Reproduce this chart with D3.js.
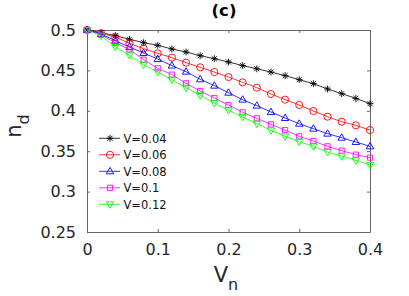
<!DOCTYPE html>
<html>
<head>
<meta charset="utf-8">
<script src="https://cdn.jsdelivr.net/npm/d3@7"></script>
<style>
  body { margin: 0; background: #fff; }
  text { font-family: "DejaVu Sans", sans-serif; }
</style>
</head>
<body>
<svg id="svg1" width="409" height="296"></svg>
<script>
var vn = [0, 0.02, 0.04, 0.06, 0.08, 0.10, 0.12, 0.14, 0.16, 0.18, 0.20,
          0.22, 0.24, 0.26, 0.28, 0.30, 0.32, 0.34, 0.36, 0.38, 0.40];
var v004 = [0.5, 0.4967, 0.493, 0.4885, 0.4843, 0.481, 0.4765, 0.4728, 0.4682, 0.4645, 0.4604,
            0.456, 0.452, 0.448, 0.4435, 0.4385, 0.4336, 0.427, 0.4212, 0.4154, 0.4088];
var v006 = [0.5, 0.496, 0.4913, 0.4835, 0.477, 0.4711, 0.4658, 0.4596, 0.4538, 0.448, 0.4418,
            0.4352, 0.4286, 0.4208, 0.4138, 0.4072, 0.3997, 0.3927, 0.3865, 0.382, 0.3762];
var v008 = [0.5, 0.495, 0.4868, 0.479, 0.4715, 0.464, 0.456, 0.4484, 0.439, 0.4311, 0.4224,
            0.4138, 0.4064, 0.3985, 0.3911, 0.384, 0.3779, 0.3717, 0.3667, 0.3614, 0.356];
var v010 = [0.5, 0.4942, 0.4843, 0.476, 0.4633, 0.4526, 0.4447, 0.434, 0.4245, 0.4158, 0.4072,
            0.3981, 0.3907, 0.3832, 0.3762, 0.3684, 0.3626, 0.356, 0.3507, 0.3457, 0.342];
var v012 = [0.5, 0.493, 0.479, 0.4686, 0.4571, 0.448, 0.4385, 0.4286, 0.4191, 0.4097, 0.4006,
            0.3923, 0.384, 0.3758, 0.3684, 0.3618, 0.356, 0.349, 0.3437, 0.3387, 0.333];
var names = ["V=0.04", "V=0.06", "V=0.08", "V=0.1", "V=0.12"];
var xTicks = [0, 0.1, 0.2, 0.3, 0.4];
var yTicks = [0.25, 0.3, 0.35, 0.4, 0.45, 0.5];

var series = [
  {name: names[0], vals: v004, color: "#000000", marker: "star"},
  {name: names[1], vals: v006, color: "#ff0000", marker: "circle"},
  {name: names[2], vals: v008, color: "#0000ff", marker: "up"},
  {name: names[3], vals: v010, color: "#ff00ff", marker: "square"},
  {name: names[4], vals: v012, color: "#00ff00", marker: "down"}
];

var svg = d3.select("#svg1"),
  margin = {top: 30, right: 39, bottom: 64, left: 87},
  width = +svg.attr("width") - margin.left - margin.right,
  height = +svg.attr("height") - margin.top - margin.bottom,
  g = svg.append("g").attr("transform", "translate(" + margin.left + "," + margin.top + ")");

var x = d3.scaleLinear().domain([0, 0.4]).range([0, width]);
var y = d3.scaleLinear().domain([0.25, 0.5]).range([height, 0]);

function markerPath(type) {
  var r = 3.4;
  if (type === "star") {
    var d = r * 0.72;
    return "M" + (-r) + ",0L" + r + ",0M0," + (-r) + "L0," + r +
      "M" + (-d) + "," + (-d) + "L" + d + "," + d + "M" + (-d) + "," + d + "L" + d + "," + (-d);
  }
  if (type === "circle") return d3.symbol(d3.symbolCircle, 40)();
  if (type === "square") return "M-2.6,-2.6H2.6V2.6H-2.6Z";
  if (type === "up") return "M0,-3.9L3.7,2.5L-3.7,2.5Z";
  if (type === "down") return "M0,3.9L3.7,-2.5L-3.7,-2.5Z";
}

// axes box with inward ticks
var fmt = function(d) { return d === 0 ? "0" : d3.format("")(+d.toFixed(2)); };
g.append("g")
  .attr("transform", "translate(0," + height + ")")
  .call(d3.axisBottom(x).tickValues(xTicks).tickSizeInner(-3).tickSizeOuter(0).tickPadding(12).tickFormat(fmt));
g.append("g")
  .call(d3.axisTop(x).tickValues(xTicks).tickSizeInner(-3).tickSizeOuter(0).tickFormat(""));
g.append("g")
  .call(d3.axisLeft(y).tickValues(yTicks).tickSizeInner(-3).tickSizeOuter(0).tickPadding(11).tickFormat(fmt));
g.append("g")
  .attr("transform", "translate(" + width + ",0)")
  .call(d3.axisRight(y).tickValues(yTicks).tickSizeInner(-3).tickSizeOuter(0).tickFormat(""));
g.selectAll(".domain").attr("stroke", "#666");
g.selectAll(".tick line").attr("stroke", "#666");
g.selectAll(".tick text").attr("font-size", 16).attr("fill", "#262626")
  .attr("font-family", "DejaVu Sans, sans-serif");

var line = d3.line()
  .x(function(d, i) { return x(vn[i]); })
  .y(function(d) { return y(d); });

series.forEach(function(s) {
  g.append("path")
    .datum(s.vals)
    .attr("fill", "none")
    .attr("stroke", s.color)
    .attr("stroke-width", 0.8)
    .attr("d", line);
  g.selectAll(null)
    .data(s.vals)
    .enter().append("path")
    .attr("transform", function(d, i) { return "translate(" + x(vn[i]) + "," + y(d) + ")"; })
    .attr("d", markerPath(s.marker))
    .attr("fill", "none")
    .attr("stroke", s.color)
    .attr("stroke-width", 0.9);
});

// legend
var leg = g.append("g").attr("transform", "translate(12,108.3)");
series.forEach(function(s, i) {
  var row = leg.append("g").attr("transform", "translate(0," + (i * 16.5) + ")");
  row.append("line").attr("x1", 0).attr("x2", 21).attr("y1", 0).attr("y2", 0)
    .attr("stroke", s.color).attr("stroke-width", 0.8);
  row.append("path").attr("transform", "translate(11,0)").attr("d", markerPath(s.marker))
    .attr("fill", "none").attr("stroke", s.color).attr("stroke-width", 0.9);
  row.append("text").attr("x", 24.5).attr("y", 4.2).attr("font-size", 11.5).attr("fill", "#111")
    .text(s.name);
});

// title and axis labels
svg.append("text").attr("x", 224).attr("y", 15.5)
  .attr("text-anchor", "middle").attr("font-size", 16.5).attr("font-weight", "bold").text("(c)");
var xl = svg.append("text").attr("x", 226).attr("y", 282).attr("text-anchor", "middle").attr("font-size", 21)
  .attr("fill", "#262626");
xl.append("tspan").text("V");
xl.append("tspan").attr("font-size", 16).attr("dy", 8).text("n");
var yl = svg.append("text").attr("transform", "translate(21,126) rotate(-90)")
  .attr("text-anchor", "middle").attr("font-size", 21).attr("fill", "#262626");
yl.append("tspan").text("n");
yl.append("tspan").attr("font-size", 16).attr("dy", 8).text("d");
</script>
</body>
</html>
